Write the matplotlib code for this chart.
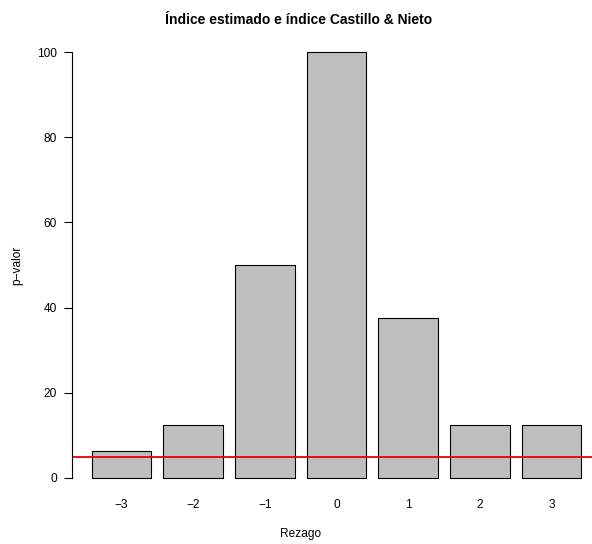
import matplotlib.pyplot as plt
import numpy as np

plt.rcParams['font.family'] = ['Liberation Sans', 'DejaVu Sans']

rezago = ["\u22123", "\u22122", "\u22121", "0", "1", "2", "3"]
pvalor = [6.25, 12.5, 50, 100, 37.5, 12.5, 12.5]
umbral = 5

fig = plt.figure(figsize=(5.92, 5.44), dpi=100)
# region del grafico estilo barplot de R (se sale un poco por la derecha)
ax = fig.add_axes([72/592, (544-495)/544, 529/592, (495-35)/544])

x = 0.7 + 1.2*np.arange(len(pvalor))
ax.bar(x, pvalor, width=1.0, color="#bebebe", edgecolor="black", linewidth=0.8)
ax.axhline(umbral, color="#e8000b", linewidth=1.3)

ax.set_xlim(-0.128, 8.728)
ax.set_ylim(-4, 104)
ax.set_xticks(x)
ax.set_xticklabels(rezago, fontsize=8.6)
ax.tick_params(axis="x", length=0, pad=3)
ax.set_yticks([0, 20, 40, 60, 80, 100])
ax.tick_params(axis="y", length=5.5, width=0.8, pad=5.5, labelsize=8.6)

for s in ["top", "right", "bottom"]:
    ax.spines[s].set_visible(False)
ax.spines["left"].set_bounds(0, 100)
ax.spines["left"].set_linewidth(0.8)

fig.text(299/592, 1-20/544, "Índice estimado e índice Castillo & Nieto",
         ha="center", va="center", fontsize=10.0, fontweight="bold")
fig.text(301/592, 1-534/544, "Rezago", ha="center", va="center", fontsize=8.6)
fig.text(17/592, 1-265/544, "p\u2212valor", ha="center", va="center",
         rotation=90, fontsize=8.6)

plt.savefig("out.png", dpi=100)
